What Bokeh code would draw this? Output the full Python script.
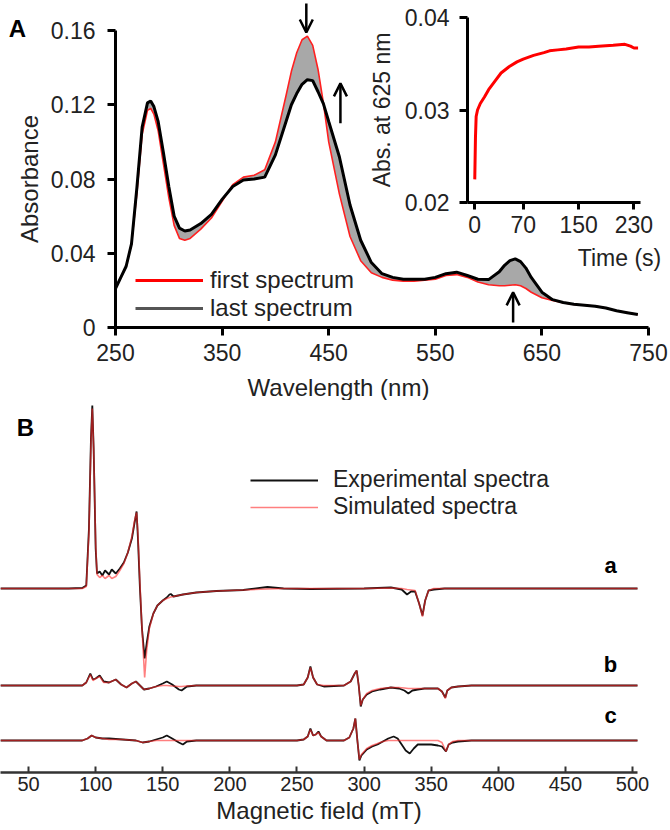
import numpy as np
from bokeh.plotting import figure
from bokeh.models import (Range1d, FixedTicker, Legend, LegendItem, Arrow, OpenHead, Label)
from bokeh.embed import file_html
from bokeh.resources import INLINE

FONT = "Liberation Sans"

# ---------------- Panel A: UV-vis spectra ----------------
wavelength = [250, 255, 260, 265, 270, 275, 280, 283, 286, 290, 295, 300, 305, 310, 315, 320,
              330, 340, 350, 360, 370, 380, 390, 400, 410, 415, 420, 425, 430, 435, 440, 445,
              450, 460, 470, 480, 490, 500, 510, 520, 530, 540, 550, 560, 570, 580, 590, 600,
              610, 615, 620, 625, 630, 635, 640, 650, 660, 670, 680, 690, 700, 710, 720, 730, 740]
abs_last = [0.021, 0.027, 0.033, 0.045, 0.075, 0.108, 0.121, 0.122, 0.119, 0.111, 0.094, 0.076,
            0.060, 0.0535, 0.052, 0.0525, 0.056, 0.061, 0.069, 0.076, 0.0795, 0.080, 0.081, 0.093,
            0.111, 0.120, 0.126, 0.131, 0.1335, 0.133, 0.127, 0.1206, 0.111, 0.092, 0.066, 0.047,
            0.035, 0.029, 0.027, 0.026, 0.026, 0.026, 0.027, 0.029, 0.0298, 0.028, 0.026, 0.0258,
            0.030, 0.0335, 0.036, 0.037, 0.0355, 0.032, 0.027, 0.019, 0.015, 0.0135, 0.0125, 0.012,
            0.0115, 0.0105, 0.009, 0.008, 0.007]
abs_first = [0.021, 0.027, 0.033, 0.045, 0.072, 0.104, 0.117, 0.118, 0.115, 0.106, 0.088, 0.070,
             0.055, 0.048, 0.047, 0.048, 0.053, 0.059, 0.068, 0.077, 0.081, 0.082, 0.085, 0.100,
             0.125, 0.138, 0.148, 0.155, 0.157, 0.152, 0.139, 0.121, 0.100, 0.072, 0.049, 0.036,
             0.0295, 0.027, 0.0255, 0.025, 0.025, 0.0255, 0.026, 0.028, 0.0285, 0.027, 0.0245, 0.023,
             0.0225, 0.0225, 0.0228, 0.023, 0.0225, 0.021, 0.019, 0.016, 0.0145, 0.0133, 0.0124, 0.012,
             0.0115, 0.0105, 0.009, 0.008, 0.007]
a_xticks = [250, 350, 450, 550, 650, 750]
a_yticks = [0, 0.04, 0.08, 0.12, 0.16]
a_ylabels = ["0", "0.04", "0.08", "0.12", "0.16"]

# inset: kinetics at 625 nm
time_s = [0, 1, 2, 4, 8, 14, 20, 30, 38, 50, 61, 70, 85, 100, 108, 120, 132, 150, 165, 179,
          200, 217, 225, 230, 236]
abs625 = [0.0225, 0.027, 0.0293, 0.030, 0.0307, 0.0314, 0.0322, 0.0332, 0.034, 0.0347, 0.0352,
          0.0355, 0.0359, 0.0362, 0.0364, 0.0365, 0.0366, 0.0368, 0.0368, 0.0369, 0.037, 0.0371,
          0.0369, 0.0367, 0.0367]
inset_xticks = [0, 70, 150, 230]
inset_yticks = [0.02, 0.03, 0.04]

# arrows: (wavelength, start abs, end abs)
arrow_specs = [(429, 0.1745, 0.1589), (461, 0.110, 0.1315), (623, 0.0027, 0.0189)]

# ---------------- Panel B: EPR spectra (field mT, experimental, simulated) ----------------
trace_a = [(29, 0, 0), (80, 0, 0), (90, 0.5, 0), (93, 3, 2), (95, 60, 55), (96.5, 150, 145),
           (97.5, 183, 180), (98.5, 140, 140), (100, 40, 45), (101, 15, 14), (103, 17, 11),
           (105, 13, 13), (107, 18, 10), (110, 14, 13), (112, 19, 10), (115, 15, 12), (118, 20, 18),
           (121, 26, 25), (124, 36, 36), (127, 50, 52), (129, 66, 68), (130.5, 77, 76),
           (131.5, 50, 55), (133, 0, 5), (134.5, -40, -40), (136.5, -70, -89), (138, -55, -62),
           (140, -38, -40), (143, -25, -25), (146, -17, -17), (150, -12, -12), (153, -9, -10),
           (155, -6, -9), (156, -5.5, -8.5), (158, -8, -8), (165, -6, -6), (175, -4, -4),
           (190, -2.5, -2.5), (210, -1.5, -1.5), (228, 1.5, -0.5), (240, 0, 0), (260, -0.5, 0),
           (300, 0, 0), (320, 1, 0.5), (328, -1, 0), (332, -6, -1), (335, -3, -1.5), (338, -3, -2),
           (341, -15, -15), (343.5, -27, -28), (345.5, -12, -12), (348, -2, -2), (352, -1, 0),
           (360, 0, 0), (400, 0, 0), (450, 0, 0), (505, 0, 0)]
trace_b = [(29, 0, 0), (90, 0, 0), (93, 3, 3), (96, 12, 11), (98, 6, 5), (100, 7, 7), (103, 10, 9),
           (106, 4, 3), (110, 3, 3), (115, 6, 6), (119, 1, 1), (123, -2, -2), (127, 2, 2),
           (130, 4, 4), (133, 0, 0), (136, -4, -4), (140, -3, -3), (145, -1, -1), (150, 2, 0),
           (153, 4, 0), (157, 1, -0.5), (162, -4, -1), (164, -5, -1), (168, -1, -0.5), (175, 0, 0),
           (250, 0, 0), (255, 1, 1), (258, 8, 8), (260, 19, 18), (262, 8, 8), (265, 1, 1),
           (270, -1, 0), (285, 0, 0), (290, 4, 4), (293, 12, 12), (294.5, 15, 15), (296, 0, 0),
           (297.5, -21, -20), (299, -14, -14), (302, -9, -8), (306, -6, -5), (312, -4, -3),
           (320, -2, -2), (326, -3, -2), (330, -5, -2.5), (333, -8, -3), (336, -5, -3), (340, -4, -3),
           (345, -3, -3), (350, -3, -3), (355, -3, -3), (358, -6, -6), (360.5, -12, -13),
           (362, -5, -5), (365, -2, -2), (370, -1, -1), (380, 0, 0), (505, 0, 0)]
trace_c = [(29, 0, 0), (90, 0, 0), (94, 2, 2), (97, 5, 5), (100, 3, 3), (105, 2, 2), (110, 2, 1),
           (120, 1, 1), (130, 0, 0), (135, -2, -2), (140, -1, -1), (145, 1, 0), (150, 3, 0),
           (153, 5, 0), (157, 2, 0), (162, -2, 0), (165, -4, 0), (168, -1, 0), (175, 0, 0),
           (250, 0, 0), (255, 1, 1), (258, 4, 4), (260, 12, 11), (262, 5, 5), (264, 6, 6),
           (266, 9, 8), (268, 4, 4), (272, 0, 0), (285, 0, 0), (289, 3, 3), (292, 12, 12),
           (293.5, 22, 22), (295, 0, 0), (296.5, -20, -19), (298, -15, -14), (302, -9, -8),
           (306, -6, -5), (310, -4, -3), (314, -1, -1), (318, 2, 0), (322, 4, 0), (325, 2, 0),
           (328, -4, 0), (331, -10, 0), (334, -13, 0), (337, -8, 0), (340, -4, 0), (345, -4, 0),
           (350, -4, 0), (355, -5, 0), (358, -6, -2), (361, -11, -11), (363, -4, -4), (366, -2, -1),
           (370, -1, 0), (380, 0, 0), (505, 0, 0)]
trace_names = ["a", "b", "c"]
trace_offsets = [184, 87, 32]
b_xticks = [50, 100, 150, 200, 250, 300, 350, 400, 450, 500]

TXT = "#222222"


def style_text_axis(ax, size="23px"):
    ax.major_label_text_font = FONT
    ax.major_label_text_font_size = size
    ax.major_label_text_color = TXT
    ax.axis_label_text_font = FONT
    ax.axis_label_text_font_style = "normal"
    ax.axis_label_text_color = TXT


def place(left, top):
    return {"position": "absolute", "left": f"{left}px", "top": f"{top}px"}


# ---------------- Figure A ----------------
pA = figure(width=670, height=400, x_range=Range1d(250, 750), y_range=Range1d(0, 0.16),
            output_backend="svg", toolbar_location=None,
            min_border_left=115, min_border_right=22, min_border_top=30, min_border_bottom=73,
            styles=place(0, 0))
pA.outline_line_color = None
pA.grid.visible = False

lo = np.minimum(abs_first, abs_last)
hi = np.maximum(abs_first, abs_last)
pA.varea(x=wavelength, y1=lo, y2=hi, fill_color="#a8a8a8")
pA.line(wavelength, abs_first, line_color="#ff2020", line_width=1.6)
pA.line(wavelength, abs_last, line_color="black", line_width=3)
r_leg_first = pA.line(np.array([np.nan]), np.array([np.nan]), line_color="#ff0000", line_width=3)
r_leg_last = pA.line(np.array([np.nan]), np.array([np.nan]), line_color="#555555", line_width=3)

for ax in [pA.xaxis[0], pA.yaxis[0]]:
    style_text_axis(ax)
    ax.axis_line_width = 3
    ax.major_tick_line_width = 3
    ax.major_tick_in = 0
    ax.major_tick_out = 8
    ax.minor_tick_line_color = None
pA.xaxis.ticker = FixedTicker(ticks=a_xticks)
pA.xaxis.major_label_standoff = 8
pA.yaxis.ticker = FixedTicker(ticks=a_yticks)
pA.yaxis.major_label_overrides = dict(zip(a_yticks, a_ylabels))
pA.yaxis.major_label_standoff = 12
pA.yaxis.axis_label = "Absorbance"
pA.yaxis.axis_label_text_font_size = "24px"
pA.yaxis.axis_label_standoff = 5

legA = Legend(items=[LegendItem(label="first spectrum", renderers=[r_leg_first]),
                     LegendItem(label="last spectrum", renderers=[r_leg_last])],
              location=(20, 5), glyph_width=68, glyph_height=22, label_standoff=7, spacing=0,
              padding=0, margin=0, label_text_font=FONT, label_text_font_size="24px",
              label_text_color=TXT, background_fill_alpha=0, border_line_alpha=0,
              label_height=22)
pA.add_layout(legA)

# ---------------- Inset ----------------
pI = figure(width=297, height=267, x_range=Range1d(-10.5, 239.5), y_range=Range1d(0.02, 0.04),
            output_backend="svg", toolbar_location=None,
            min_border_left=98, min_border_right=22, min_border_top=12, min_border_bottom=70,
            background_fill_alpha=0, border_fill_alpha=0, styles=place(365, 5))
pI.outline_line_color = None
pI.grid.visible = False
pI.line(time_s, abs625, line_color="#ff0000", line_width=3)
for ax in [pI.xaxis[0], pI.yaxis[0]]:
    style_text_axis(ax)
    ax.axis_line_width = 3
    ax.major_tick_line_width = 3
    ax.major_tick_in = 0
    ax.minor_tick_line_color = None
pI.xaxis.ticker = FixedTicker(ticks=inset_xticks)
pI.xaxis.major_tick_out = 7
pI.xaxis.major_label_standoff = 6
pI.yaxis.ticker = FixedTicker(ticks=inset_yticks)
pI.yaxis.major_tick_out = 8
pI.yaxis.major_label_standoff = 10
pI.yaxis.axis_label = "Abs. at 625 nm"
pI.yaxis.axis_label_text_font_size = "23px"
pI.yaxis.axis_label_standoff = 7

# ---------------- Overlay for panel A annotations (same units as panel A) ----------------
pO = figure(width=670, height=400, x_range=Range1d(142.12, 770.64), y_range=Range1d(-0.039327, 0.17616),
            output_backend="svg", toolbar_location=None, x_axis_location=None, y_axis_location=None,
            min_border=0, background_fill_alpha=0, border_fill_alpha=0, styles=place(0, 0))
pO.outline_line_color = None
pO.grid.visible = False
for (wl, y0, y1) in arrow_specs:
    pO.add_layout(Arrow(end=OpenHead(size=13, line_width=2.5, line_color="black"),
                        x_start=wl, y_start=y0, x_end=wl, y_end=y1,
                        line_width=2.5, line_color="black"))
pO.add_layout(Label(x=459.2, y=-0.0323, text="Wavelength (nm)", text_font=FONT, text_font_size="24px",
                    text_color=TXT, text_align="center", text_baseline="middle"))
pO.add_layout(Label(x=722.8, y=0.0377, text="Time (s)", text_font=FONT, text_font_size="23px",
                    text_color=TXT, text_align="center", text_baseline="middle"))
pO.add_layout(Label(x=158.1, y=0.1611, text="A", text_font=FONT, text_font_size="24px",
                    text_font_style="bold", text_color="black", text_align="center",
                    text_baseline="middle"))

# ---------------- Figure B ----------------
pB = figure(width=670, height=430, x_range=Range1d(29.1, 503.7), y_range=Range1d(0, 372),
            output_backend="svg", toolbar_location=None, y_axis_location=None,
            min_border_left=0, min_border_right=33, min_border_top=0, min_border_bottom=58,
            styles=place(0, 400))
pB.outline_line_color = None
pB.grid.visible = False

legend_items = []
for name, pts, off in zip(trace_names, [trace_a, trace_b, trace_c], trace_offsets):
    fld, ex, sm = map(np.array, zip(*pts))
    r_exp = pB.line(fld, ex + off, line_color="#111111", line_width=1.8)
    r_sim = pB.line(fld, sm + off, line_color="#ff2a2a", line_width=1.6, line_alpha=0.6)
    if name == "a":
        legend_items = [LegendItem(label="Experimental spectra", renderers=[r_exp]),
                        LegendItem(label="Simulated spectra", renderers=[r_sim])]

label_y = [207, 108, 57]
for name, ly in zip(trace_names, label_y):
    pB.add_layout(Label(x=483.6, y=ly, text=name, text_font=FONT, text_font_size="22px",
                        text_font_style="bold", text_color="black", text_align="center",
                        text_baseline="middle"))
pB.add_layout(Label(x=47.7, y=345, text="B", text_font=FONT, text_font_size="24px",
                    text_font_style="bold", text_color="black", text_align="center",
                    text_baseline="middle"))

ax = pB.xaxis[0]
style_text_axis(ax, "20px")
ax.ticker = FixedTicker(ticks=b_xticks)
ax.axis_line_width = 2.5
ax.axis_line_color = "#333333"
ax.major_tick_line_color = "#333333"
ax.major_tick_line_width = 2
ax.major_tick_in = 6
ax.major_tick_out = 0
ax.minor_tick_line_color = None
ax.major_label_standoff = 4
ax.axis_label = "Magnetic field (mT)"
ax.axis_label_text_font_size = "24px"
ax.axis_label_standoff = 3

legB = Legend(items=legend_items, location=(250, 252), glyph_width=68, glyph_height=22,
              label_standoff=15, spacing=-2, padding=0, margin=0, label_text_font=FONT,
              label_text_font_size="23px", label_text_color=TXT, background_fill_alpha=0,
              border_line_alpha=0, label_height=22)
pB.add_layout(legB)

open("out.html", "w").write(file_html([pA, pB, pI, pO], INLINE))
